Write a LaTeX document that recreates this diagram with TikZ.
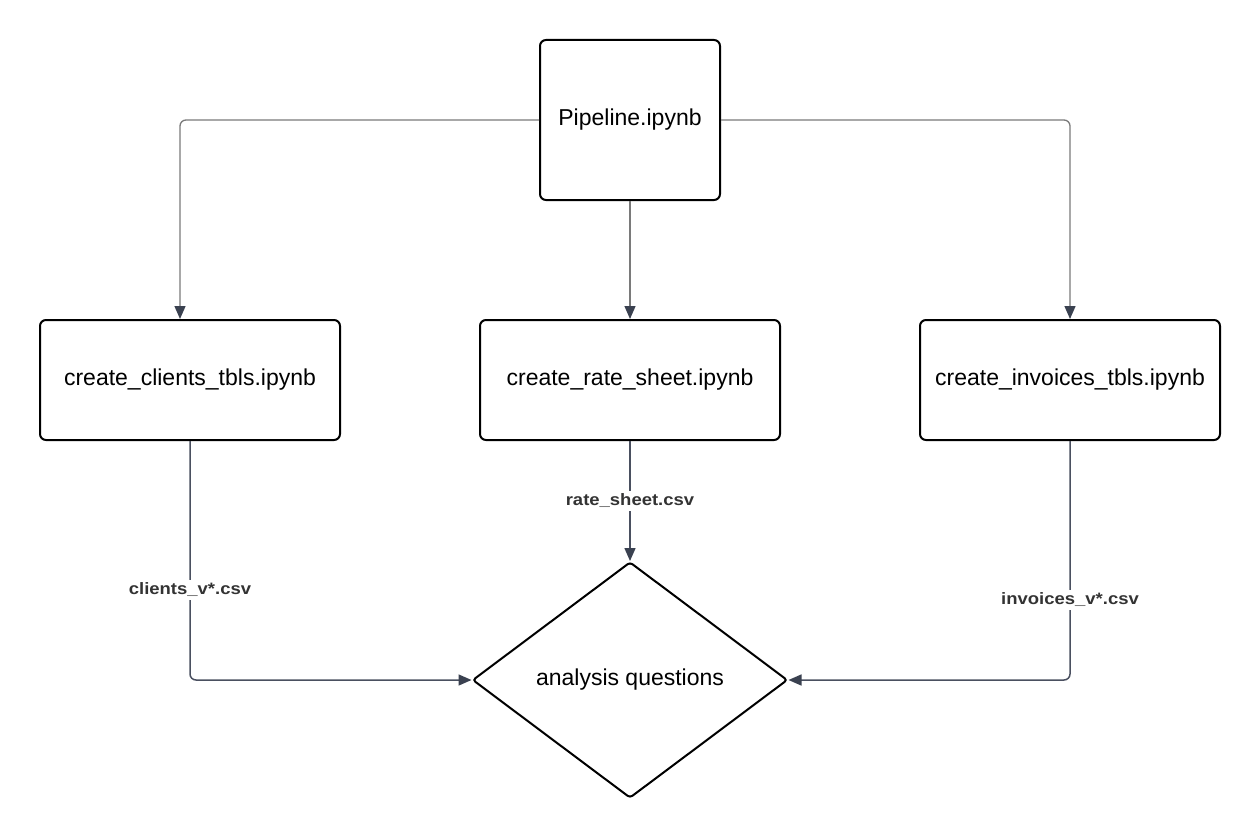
\documentclass[tikz,border=0pt]{standalone}
\usepackage{fontspec}
\setmainfont{Liberation Sans}
\newfontfamily\labfont[FakeStretch=1.12]{Liberation Sans}
\usetikzlibrary{shapes.geometric,arrows.meta}
\definecolor{lineGray}{HTML}{7A7A7A}
\definecolor{lineDark}{HTML}{4A5060}
\definecolor{tipDark}{HTML}{3A4150}
\definecolor{labelDark}{HTML}{333333}
\begin{document}
\begin{tikzpicture}[x=1pt,y=-1pt,
  proc/.style={draw=black, line width=2pt, rounded corners=6pt, fill=white,
    inner sep=0pt, font=\fontsize{23}{26}\selectfont},
  decis/.style={draw=black, line width=2pt, diamond, rounded corners=3pt,
    inner sep=0pt, minimum width=315pt, minimum height=236pt,
    font=\fontsize{23}{26}\selectfont},
  topconn/.style={draw=lineGray, line width=1.3pt, rounded corners=6pt,
    -{Triangle[length=13pt,width=11pt,color=tipDark]}},
  botconn/.style={draw=lineDark, line width=1.5pt, rounded corners=6pt,
    -{Triangle[length=13pt,width=11pt,color=tipDark]}},
  elabel/.style={fill=white, inner sep=3pt, text=labelDark,
    font=\labfont\bfseries\fontsize{16.5}{19}\selectfont}
]
\useasboundingbox (0,0) rectangle (1260,840);
\fill[white] (0,0) rectangle (1260,840);

\node[proc, minimum width=180pt, minimum height=160pt] (pipe) at (630,120) {Pipeline.ipynb};
\node[proc, minimum width=300pt, minimum height=120pt] (clients) at (190,380) {create\_clients\_tbls.ipynb};
\node[proc, minimum width=300pt, minimum height=120pt] (rate) at (630,380) {create\_rate\_sheet.ipynb};
\node[proc, minimum width=300pt, minimum height=120pt] (inv) at (1070,380) {create\_invoices\_tbls.ipynb};
\node[decis] (ana) at (630,680) {analysis questions};

\coordinate (tl) at (180,120);
\coordinate (tr) at (1070,120);
\coordinate (bl) at (190,680);
\coordinate (br) at (1070,680);

\draw[topconn] (pipe.west) -- (tl) -- (tl |- clients.north);
\draw[topconn] (pipe.east) -- (tr) -- (inv.north);
\draw[topconn] (pipe.south) -- (rate.north);

\draw[botconn] (clients.south) -- (bl) -- (ana.west);
\draw[botconn] (rate.south) -- (ana.north);
\draw[botconn] (inv.south) -- (br) -- (ana.east);

\node[elabel] (l1) at (190,590) {clients\_v*.csv};
\node[elabel] (l2) at (630,501) {rate\_sheet.csv};
\node[elabel] (l3) at (1070,600) {invoices\_v*.csv};
\end{tikzpicture}
\end{document}
